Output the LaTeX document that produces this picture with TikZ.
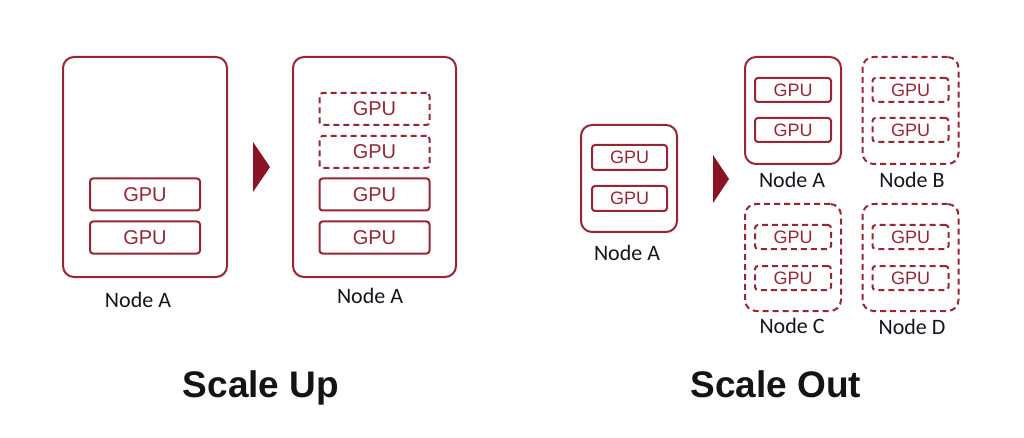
\documentclass[tikz,border=0pt]{standalone}
\usepackage{fontspec}
\setmainfont{Liberation Sans}
\newfontfamily\lblfont{Carlito}
\definecolor{dred}{RGB}{150,38,52}
\definecolor{afill}{RGB}{138,20,36}
\definecolor{lbl}{RGB}{20,20,30}
\begin{document}
\begin{tikzpicture}[x=1pt,y=-1pt,
  bigbox/.style={draw=dred,line width=2pt,rounded corners=11pt,minimum width=#1,inner sep=0pt},
  gpubig/.style={draw=dred,line width=2pt,rounded corners=3pt,minimum width=110pt,minimum height=32pt,inner sep=0pt,text=dred,font=\fontsize{20}{20}\selectfont},
  gpusm/.style={draw=dred,line width=2pt,rounded corners=3pt,minimum width=76pt,minimum height=24pt,inner sep=0pt,text=dred,font=\fontsize{18}{18}\selectfont},
  ghost/.style={dash pattern=on 6pt off 4pt},
  nodelbl/.style={anchor=base,text=lbl,font=\lblfont\fontsize{22}{22}\selectfont,inner sep=0pt},
  title/.style={anchor=base,text=black!92,font=\bfseries\fontsize{37}{37}\selectfont,inner sep=0pt},
  tri/.style={fill=afill}]
\useasboundingbox (0,0) rectangle (1024,438);
% ---- Scale Up ----
\node[bigbox=164pt,minimum height=220pt] (u1) at (145,167) {};
\node[gpubig] (u1g1) at (145,194.5) {GPU};
\node[gpubig] (u1g2) at (145,237.5) {GPU};
\node[nodelbl] (u1l) at (138,307) {Node A};
\fill[tri] (253,142) -- (270,167) -- (253,192) -- cycle;
\node[bigbox=163pt,minimum height=220pt] (u2) at (374.5,167) {};
\node[gpubig,ghost] (u2g1) at (374.5,109) {GPU};
\node[gpubig,ghost] (u2g2) at (374.5,152) {GPU};
\node[gpubig] (u2g3) at (374.5,194.5) {GPU};
\node[gpubig] (u2g4) at (374.5,237.5) {GPU};
\node[nodelbl] (u2l) at (370,303) {Node A};
\node[title] (tu) at (261,397) {Scale Up};
% ---- Scale Out ----
\node[bigbox=96pt,minimum height=107pt] (o0) at (629,178.5) {};
\node[gpusm,minimum width=75pt,minimum height=25pt] (o0g1) at (629.5,157.5) {GPU};
\node[gpusm,minimum width=75pt,minimum height=25pt] (o0g2) at (629.5,198.5) {GPU};
\node[nodelbl] (o0l) at (627,260) {Node A};
\fill[tri] (713,155) -- (729,179) -- (713,203) -- cycle;
% Node A
\node[bigbox=96pt,minimum height=107pt] (oa) at (793,110.5) {};
\node[gpusm] (oag1) at (793,90) {GPU};
\node[gpusm] (oag2) at (793,130) {GPU};
\node[nodelbl] (oal) at (792,188) {Node A};
% Node B
\node[bigbox=96pt,minimum height=107pt,ghost] (ob) at (910.5,110.5) {};
\node[gpusm,ghost] (obg1) at (910.5,90) {GPU};
\node[gpusm,ghost] (obg2) at (910.5,130) {GPU};
\node[nodelbl] (obl) at (912,188) {Node B};
% Node C
\node[bigbox=96pt,minimum height=107pt,ghost] (oc) at (793,257.5) {};
\node[gpusm,ghost] (ocg1) at (793,237) {GPU};
\node[gpusm,ghost] (ocg2) at (793,278) {GPU};
\node[nodelbl] (ocl) at (792,333) {Node C};
% Node D
\node[bigbox=96pt,minimum height=107pt,ghost] (od) at (910.5,257.5) {};
\node[gpusm,ghost] (odg1) at (910.5,237) {GPU};
\node[gpusm,ghost] (odg2) at (910.5,278) {GPU};
\node[nodelbl] (odl) at (912,334) {Node D};
\node[title] (to) at (776,397) {Scale Out};
\end{tikzpicture}
\end{document}
